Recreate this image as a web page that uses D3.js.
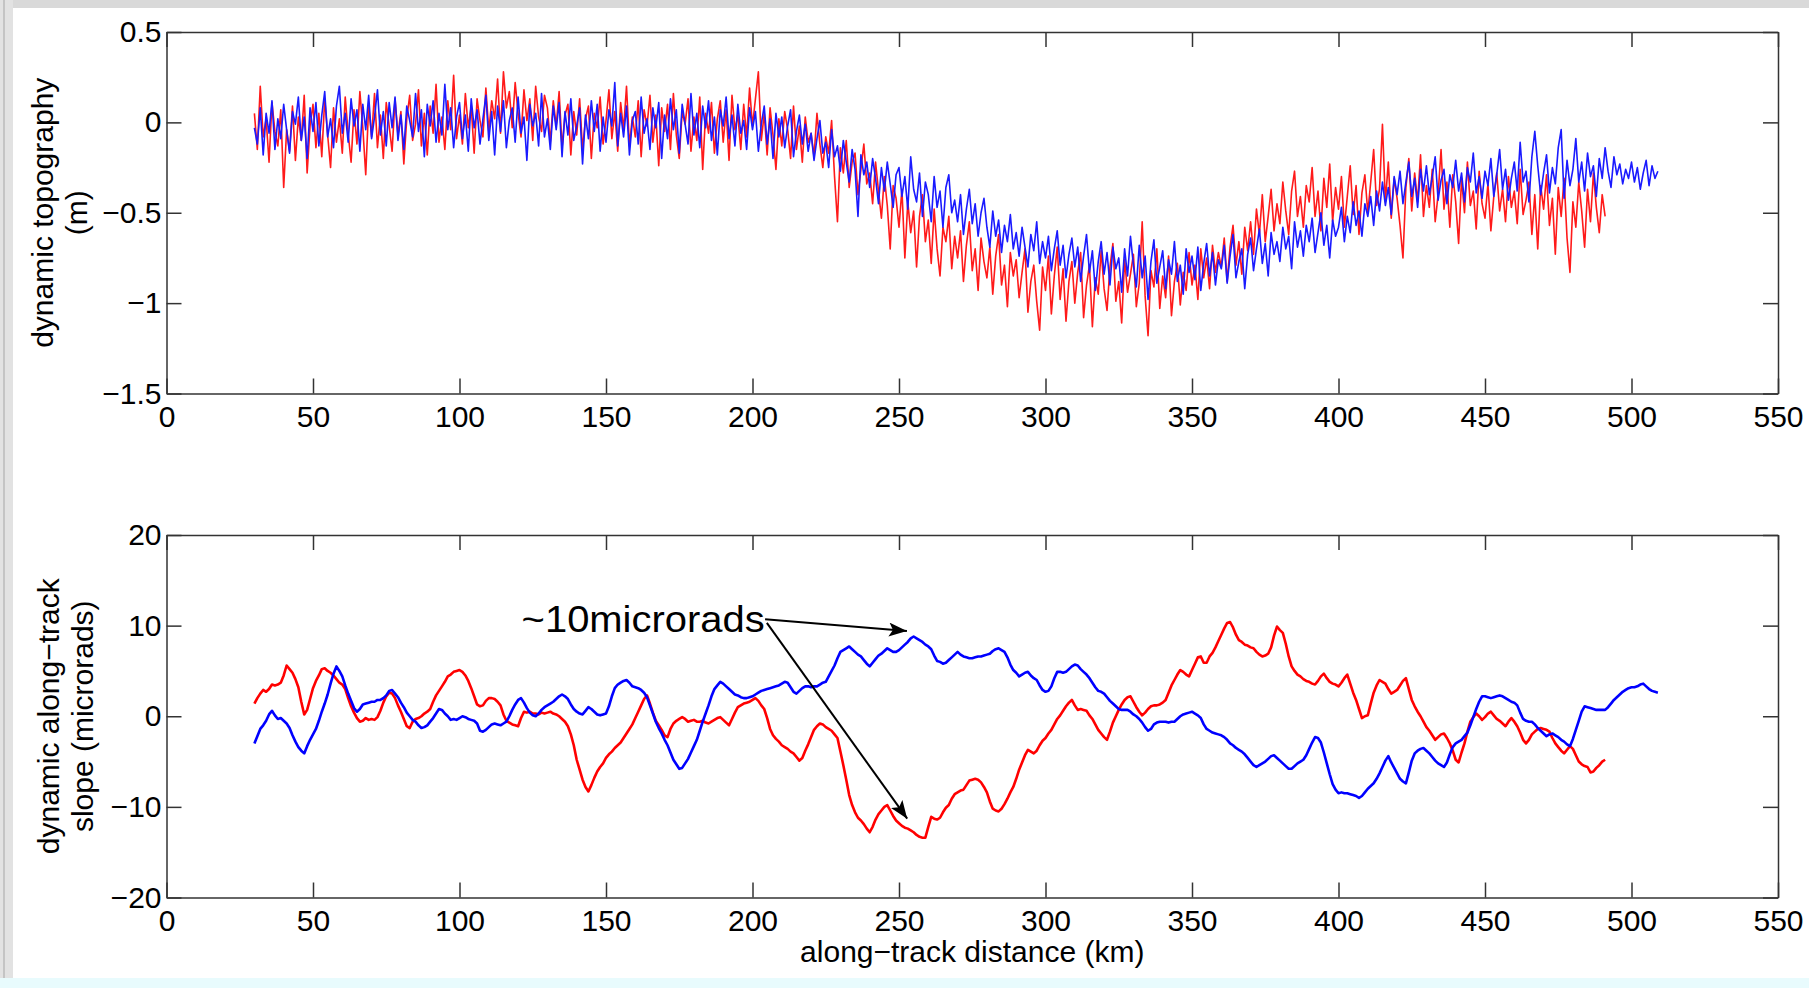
<!DOCTYPE html>
<html>
<head>
<meta charset="utf-8">
<script src="https://cdn.jsdelivr.net/npm/d3@7"></script>
<style>
    body { margin: 0; background: #fff; }
    text { font-family: "Liberation Sans", Arial, sans-serif; fill: #000; }
    .axis path, .axis line { stroke: #333; stroke-width: 1.5; }
    .axis text { font-size: 30px; }
    .label { font-size: 30px; }
</style>
</head>
<body>
<div id="chart"></div>
<script>
// samples are 1 km apart along the track, starting at 30 km
let distStart = 30;
let distStep = 1;

let xTicks = [0, 50, 100, 150, 200, 250, 300, 350, 400, 450, 500, 550];
let topoTicks = [-1.5, -1, -0.5, 0, 0.5];
let slopeTicks = [-20, -10, 0, 10, 20];

// dynamic topography (m)
let topoRed = [
0.05,-0.15,0.20,-0.08,0.02,-0.22,0.11,-0.05,-0.13,0.07,
-0.36,-0.04,-0.16,0.09,-0.21,0.03,-0.10,0.15,-0.28,-0.02,
0.10,-0.14,0.05,-0.19,0.13,-0.07,-0.25,0.08,-0.11,0.02,
-0.17,0.14,-0.06,-0.22,0.07,-0.12,0.17,-0.03,-0.29,0.09,
-0.08,0.16,-0.14,0.04,-0.20,0.11,-0.02,-0.16,0.13,-0.07,
0.06,-0.23,0.02,0.15,-0.10,-0.01,0.18,-0.13,0.05,-0.18,
0.09,-0.06,0.21,-0.11,0.03,-0.15,0.12,-0.04,0.26,-0.09,
0.04,-0.12,0.16,-0.03,0.09,-0.17,0.13,0.01,-0.08,0.19,
-0.05,0.12,0.02,0.24,-0.06,0.28,0.08,0.17,-0.03,0.22,
0.05,-0.08,0.18,0.01,0.13,-0.10,0.20,0.03,-0.05,0.15,
0.08,-0.11,0.12,-0.02,0.17,-0.14,0.04,0.10,-0.18,0.06,
-0.07,0.13,-0.15,0.02,0.09,-0.20,0.05,-0.03,0.14,-0.12,
0.01,0.18,-0.09,0.06,-0.16,0.11,-0.04,0.20,-0.13,0.03,
-0.08,0.12,-0.19,0.07,-0.02,0.15,-0.11,0.04,-0.24,0.08,
-0.05,0.10,-0.15,0.16,-0.07,-0.20,0.06,-0.01,0.13,-0.16,
0.03,-0.10,0.14,-0.26,0.05,-0.06,0.11,-0.17,0.02,0.12,
-0.11,0.07,-0.21,0.15,-0.04,0.04,-0.15,0.10,-0.08,0.19,
-0.02,0.13,0.28,-0.10,0.05,-0.18,0.08,-0.07,-0.26,0.02,
-0.13,0.06,-0.04,-0.20,0.09,-0.15,-0.02,-0.22,0.03,-0.11,
-0.06,-0.19,0.05,-0.12,-0.25,-0.08,-0.17,0.01,-0.30,-0.55,
-0.14,-0.28,-0.10,-0.36,-0.22,-0.17,-0.40,-0.26,-0.12,-0.34,
-0.28,-0.45,-0.22,-0.38,-0.53,-0.30,-0.46,-0.70,-0.35,-0.42,
-0.58,-0.37,-0.75,-0.44,-0.61,-0.49,-0.80,-0.52,-0.40,-0.66,
-0.54,-0.78,-0.48,-0.70,-0.85,-0.58,-0.66,-0.52,-0.81,-0.63,
-0.75,-0.60,-0.88,-0.68,-0.55,-0.82,-0.70,-0.93,-0.64,-0.77,
-0.86,-0.69,-0.95,-0.74,-0.62,-0.90,-0.79,-1.02,-0.72,-0.85,
-0.76,-0.97,-0.83,-0.70,-1.05,-0.88,-0.79,-0.99,-1.15,-0.80,
-0.93,-0.74,-1.06,-0.85,-0.69,-0.98,-0.81,-1.10,-0.88,-0.77,
-1.00,-0.83,-0.72,-1.08,-0.90,-0.79,-1.13,-0.86,-0.95,-0.71,
-0.92,-1.04,-0.80,-0.67,-0.99,-0.88,-1.11,-0.76,-0.94,-0.84,
-0.73,-1.02,-0.89,-0.55,-0.96,-1.18,-0.82,-0.91,-0.70,-1.03,
-0.85,-0.97,-0.74,-1.07,-0.88,-0.78,-1.01,-0.83,-0.93,-0.72,
-0.90,-0.79,-0.98,-0.70,-0.86,-0.75,-0.92,-0.68,-0.83,-0.72,
-0.80,-0.64,-0.88,-0.69,-0.57,-0.79,-0.66,-0.84,-0.58,-0.71,
-0.55,-0.73,-0.48,-0.62,-0.40,-0.66,-0.52,-0.37,-0.60,-0.45,
-0.56,-0.33,-0.49,-0.62,-0.38,-0.27,-0.52,-0.41,-0.58,-0.35,
-0.44,-0.25,-0.52,-0.38,-0.60,-0.31,-0.47,-0.23,-0.55,-0.36,
-0.48,-0.30,-0.58,-0.41,-0.24,-0.51,-0.35,-0.62,-0.39,-0.29,
-0.50,-0.33,-0.15,-0.46,-0.37,-0.01,-0.44,-0.22,-0.53,-0.31,
-0.42,-0.57,-0.75,-0.36,-0.20,-0.49,-0.28,-0.44,-0.18,-0.52,
-0.35,-0.47,-0.26,-0.55,-0.40,-0.15,-0.48,-0.33,-0.58,-0.29,
-0.44,-0.67,-0.31,-0.50,-0.22,-0.46,-0.38,-0.59,-0.27,-0.45,
-0.53,-0.34,-0.60,-0.41,-0.28,-0.49,-0.37,-0.55,-0.30,-0.47,
-0.38,-0.56,-0.26,-0.51,-0.43,-0.33,-0.62,-0.40,-0.70,-0.35,
-0.48,-0.29,-0.57,-0.42,-0.73,-0.36,-0.52,-0.31,-0.64,-0.83,
-0.44,-0.58,-0.33,-0.49,-0.69,-0.37,-0.55,-0.28,-0.47,-0.61,
-0.40,-0.52
];

let topoBlue = [
-0.03,-0.12,0.08,-0.18,0.05,-0.06,0.12,-0.15,0.02,-0.09,
0.10,-0.04,-0.17,0.06,-0.01,0.14,-0.10,0.03,-0.20,0.08,
-0.05,0.11,-0.13,0.04,0.17,-0.08,0.02,-0.14,0.09,0.20,
-0.06,0.05,-0.11,0.13,-0.02,0.07,-0.16,0.10,-0.04,0.15,
-0.09,0.03,0.18,-0.07,0.06,-0.13,0.11,-0.03,0.14,-0.10,
0.04,-0.15,0.09,0.01,-0.08,0.16,-0.05,0.07,-0.19,0.10,
-0.02,0.12,-0.11,0.05,-0.07,0.21,-0.04,0.08,-0.14,0.03,
0.11,-0.09,0.04,-0.16,0.13,-0.03,0.07,-0.12,0.02,0.15,
-0.10,0.06,-0.18,0.09,-0.05,0.12,-0.14,0.01,0.08,-0.11,
0.14,-0.06,0.03,-0.21,0.10,-0.02,0.05,-0.13,0.16,-0.08,
0.02,-0.15,0.09,-0.04,0.11,-0.19,0.06,-0.07,0.13,-0.10,
-0.02,0.08,-0.23,0.04,-0.09,0.12,-0.05,0.10,-0.16,0.03,
-0.11,0.07,-0.02,0.22,-0.13,0.05,-0.08,0.09,-0.18,0.01,
0.06,-0.12,0.14,-0.06,0.02,-0.15,0.08,-0.03,0.11,-0.20,
0.04,-0.09,0.13,-0.04,0.07,-0.17,0.10,-0.01,-0.12,0.16,
-0.07,0.05,-0.14,0.09,-0.03,0.12,-0.10,0.03,-0.18,0.07,
-0.02,0.14,-0.09,0.04,-0.13,0.10,-0.06,0.01,-0.15,0.08,
-0.04,0.06,-0.16,-0.01,0.09,-0.12,0.02,-0.20,0.05,-0.08,
0.03,-0.14,-0.02,0.07,-0.19,-0.05,0.04,-0.12,-0.01,-0.16,
-0.06,-0.21,-0.09,0.01,-0.17,-0.11,-0.25,-0.04,-0.19,-0.13,
-0.27,-0.10,-0.22,-0.33,-0.15,-0.26,-0.52,-0.18,-0.29,-0.22,
-0.36,-0.20,-0.31,-0.45,-0.25,-0.38,-0.22,-0.34,-0.47,-0.29,
-0.25,-0.41,-0.30,-0.48,-0.19,-0.37,-0.44,-0.28,-0.52,-0.33,
-0.40,-0.55,-0.30,-0.47,-0.38,-0.58,-0.36,-0.29,-0.50,-0.43,
-0.55,-0.40,-0.62,-0.48,-0.37,-0.56,-0.45,-0.63,-0.50,-0.42,
-0.58,-0.69,-0.49,-0.63,-0.54,-0.72,-0.57,-0.66,-0.51,-0.70,
-0.61,-0.74,-0.58,-0.69,-0.80,-0.62,-0.71,-0.55,-0.78,-0.66,
-0.75,-0.63,-0.82,-0.70,-0.60,-0.79,-0.68,-0.86,-0.73,-0.64,
-0.80,-0.69,-0.88,-0.74,-0.62,-0.83,-0.71,-0.93,-0.77,-0.66,
-0.84,-0.72,-0.90,-0.69,-0.81,-0.75,-0.94,-0.70,-0.85,-0.63,
-0.79,-0.91,-0.68,-0.86,-0.74,-0.98,-0.77,-0.65,-0.89,-0.80,
-0.71,-0.92,-0.76,-0.84,-0.66,-0.88,-0.79,-0.95,-0.70,-0.83,
-0.74,-0.87,-0.69,-0.93,-0.78,-0.67,-0.85,-0.72,-0.90,-0.76,
-0.81,-0.68,-0.89,-0.74,-0.62,-0.86,-0.77,-0.70,-0.92,-0.73,
-0.64,-0.82,-0.70,-0.59,-0.78,-0.67,-0.85,-0.61,-0.73,-0.66,
-0.77,-0.58,-0.70,-0.63,-0.81,-0.55,-0.69,-0.60,-0.74,-0.57,
-0.66,-0.53,-0.72,-0.61,-0.50,-0.68,-0.57,-0.75,-0.54,-0.63,
-0.58,-0.47,-0.66,-0.52,-0.61,-0.44,-0.57,-0.49,-0.63,-0.45,
-0.52,-0.41,-0.57,-0.38,-0.49,-0.33,-0.46,-0.36,-0.51,-0.30,
-0.40,-0.27,-0.45,-0.33,-0.22,-0.41,-0.31,-0.47,-0.26,-0.38,
-0.24,-0.40,-0.30,-0.19,-0.43,-0.32,-0.26,-0.45,-0.29,-0.36,
-0.21,-0.38,-0.28,-0.44,-0.25,-0.33,-0.17,-0.39,-0.30,-0.42,
-0.27,-0.35,-0.20,-0.41,-0.29,-0.15,-0.37,-0.26,-0.43,-0.31,
-0.22,-0.38,-0.11,-0.33,-0.27,-0.44,-0.19,-0.05,-0.24,-0.40,
-0.28,-0.18,-0.39,-0.25,-0.34,-0.14,-0.04,-0.42,-0.21,-0.35,
-0.26,-0.09,-0.33,-0.22,-0.38,-0.17,-0.30,-0.24,-0.41,-0.20,
-0.31,-0.14,-0.27,-0.36,-0.19,-0.29,-0.23,-0.34,-0.26,-0.31,
-0.22,-0.33,-0.25,-0.37,-0.28,-0.21,-0.35,-0.24,-0.31,-0.27
];

// dynamic along-track slope (microrads)
let slopeRed = [
1.4,2.0,2.5,2.9,2.7,3.0,3.5,3.4,3.5,3.7,
4.5,5.6,5.2,4.8,4.1,3.2,1.6,0.2,0.7,1.9,
3.1,3.9,4.5,5.2,5.3,5.0,4.8,4.5,4.1,3.7,
3.5,3.0,2.0,1.1,0.4,-0.2,-0.6,-0.5,-0.2,-0.4,
-0.3,-0.4,-0.1,0.6,1.5,2.2,2.6,2.5,2.0,1.2,
0.5,-0.3,-1.1,-1.3,-0.6,-0.3,-0.2,0.0,0.3,0.5,
0.8,1.6,2.3,2.8,3.3,3.8,4.4,4.6,4.9,5.0,
5.1,4.9,4.5,3.9,3.1,2.2,1.3,1.1,1.2,1.7,
2.0,2.0,1.9,1.6,1.2,0.2,-0.5,-0.7,-0.9,-1.0,
-1.1,-0.2,0.5,0.4,0.5,0.3,0.3,0.2,0.4,0.3,
0.4,0.5,0.3,0.2,0.0,-0.3,-0.6,-1.1,-2.0,-3.2,
-4.8,-5.9,-7.0,-7.8,-8.3,-7.6,-6.8,-6.1,-5.6,-5.2,
-4.6,-4.2,-3.9,-3.5,-3.2,-2.9,-2.4,-1.9,-1.4,-0.9,
-0.2,0.5,1.2,1.9,2.3,1.4,0.4,-0.5,-1.0,-1.5,
-2.1,-2.3,-1.4,-0.8,-0.5,-0.3,-0.1,-0.3,-0.6,-0.5,
-0.4,-0.6,-0.6,-0.5,-0.7,-0.8,-0.6,-0.4,-0.2,-0.1,
-0.4,-0.7,-1.0,-0.3,0.4,1.0,1.2,1.4,1.5,1.6,
1.8,2.0,1.7,1.2,0.8,-0.2,-1.4,-2.1,-2.5,-2.8,
-3.2,-3.4,-3.6,-3.9,-4.1,-4.5,-4.9,-4.6,-3.8,-3.1,
-2.3,-1.5,-1.1,-0.8,-0.9,-1.2,-1.4,-1.6,-2.0,-2.4,
-3.9,-5.4,-7.0,-8.7,-9.8,-10.6,-11.2,-11.5,-11.9,-12.4,
-12.8,-12.2,-11.4,-10.8,-10.4,-10.0,-9.8,-10.4,-11.0,-11.5,
-11.8,-12.1,-12.3,-12.4,-12.6,-12.8,-13.1,-13.3,-13.4,-13.4,
-12.2,-11.1,-11.3,-11.4,-11.2,-10.6,-10.1,-9.8,-9.1,-8.6,
-8.4,-8.2,-8.1,-7.6,-7.1,-7.0,-6.9,-7.0,-7.3,-7.8,
-8.4,-9.4,-10.2,-10.4,-10.5,-10.2,-9.7,-9.1,-8.4,-7.8,
-6.9,-5.9,-5.1,-4.3,-3.7,-3.9,-4.1,-3.8,-3.2,-2.7,
-2.4,-1.9,-1.5,-0.9,-0.3,0.1,0.6,1.1,1.5,1.8,
1.2,0.7,0.8,0.7,0.6,0.1,-0.3,-0.9,-1.5,-1.9,
-2.3,-2.6,-1.7,-0.7,0.0,0.7,1.3,1.8,2.1,2.2,
1.6,1.0,0.5,0.1,0.4,0.8,1.1,1.2,1.2,1.3,
1.5,1.8,2.6,3.4,4.0,4.6,5.1,4.9,4.6,4.4,
5.1,5.8,6.5,6.6,5.9,5.9,6.6,7.0,7.6,8.3,
9.0,9.7,10.3,10.4,9.8,9.0,8.4,8.2,7.9,7.8,
7.6,7.5,7.1,6.8,6.6,6.7,6.9,7.6,8.9,9.9,
9.5,9.2,8.0,6.6,5.5,5.0,4.6,4.4,4.1,3.9,
3.8,3.6,3.5,3.9,4.4,4.7,4.2,3.8,3.6,3.5,
3.3,3.7,4.2,4.6,3.6,2.6,1.8,0.8,-0.2,0.0,
0.1,1.4,2.6,3.4,4.0,3.8,3.6,3.0,2.5,2.7,
2.9,3.4,3.9,4.2,3.0,1.8,1.1,0.5,0.0,-0.6,
-1.2,-1.6,-2.1,-2.6,-2.3,-2.0,-1.9,-2.4,-3.0,-3.8,
-4.8,-5.1,-4.0,-3.0,-1.7,-0.6,-0.1,0.3,0.0,-0.4,
-0.1,0.3,0.5,0.1,-0.3,-0.5,-0.8,-1.1,-0.6,-0.2,
-0.6,-1.1,-1.8,-2.6,-3.0,-2.6,-2.0,-1.7,-1.4,-1.3,
-1.4,-1.5,-1.7,-2.4,-3.0,-3.4,-3.8,-4.1,-3.7,-3.3,
-3.6,-4.3,-5.0,-5.3,-5.5,-5.6,-6.2,-6.1,-5.7,-5.4,
-5.0,-4.8
];

let slopeBlue = [
-3.0,-2.2,-1.4,-1.0,-0.5,0.2,0.6,0.1,-0.3,-0.2,
-0.5,-0.8,-1.3,-2.1,-2.8,-3.4,-3.8,-4.1,-3.3,-2.6,
-2.0,-1.4,-0.5,0.5,1.4,2.4,3.6,4.7,5.5,5.0,
4.4,3.4,2.5,1.7,0.9,0.5,0.8,1.3,1.4,1.5,
1.6,1.6,1.8,1.8,2.0,2.3,2.8,2.9,2.5,2.1,
1.5,1.0,0.4,0.0,-0.4,-0.6,-1.0,-1.3,-1.2,-1.0,
-0.6,-0.2,0.3,0.8,0.7,0.3,0.0,-0.4,-0.3,-0.4,
-0.2,0.0,-0.1,-0.3,-0.4,-0.5,-0.8,-1.6,-1.7,-1.5,
-1.2,-0.9,-0.8,-0.9,-1.0,-0.8,-0.6,0.0,0.7,1.3,
1.8,2.0,1.5,0.9,0.4,0.1,0.0,0.3,0.7,1.0,
1.2,1.4,1.6,1.9,2.2,2.4,2.2,1.9,1.3,0.8,
0.5,0.3,0.2,0.6,1.0,0.8,0.5,0.2,0.1,0.2,
0.3,1.1,2.2,3.1,3.5,3.7,3.9,4.0,3.7,3.3,
3.2,3.1,2.9,2.6,2.1,1.2,0.3,-0.6,-1.3,-1.9,
-2.6,-3.2,-4.0,-4.8,-5.3,-5.8,-5.7,-5.2,-4.7,-4.0,
-3.3,-2.6,-1.6,-0.6,0.3,1.2,2.2,3.0,3.4,3.8,
3.6,3.3,3.0,2.7,2.4,2.3,2.1,2.0,2.0,2.1,
2.2,2.4,2.6,2.8,2.9,3.0,3.1,3.2,3.3,3.4,
3.6,3.8,3.7,3.2,2.7,2.5,2.8,3.1,3.3,3.3,
3.2,3.3,3.3,3.5,3.7,3.8,4.4,5.0,5.6,6.4,
7.1,7.3,7.5,7.7,7.4,7.1,6.8,6.6,6.2,5.8,
5.5,5.9,6.3,6.7,6.9,7.2,7.5,7.3,7.1,7.1,
7.3,7.6,7.9,8.2,8.6,8.8,8.6,8.4,8.2,7.9,
7.7,7.4,6.7,6.1,6.0,5.8,5.9,6.2,6.5,6.8,
7.1,6.8,6.6,6.5,6.4,6.4,6.5,6.6,6.6,6.7,
6.8,6.9,7.2,7.4,7.5,7.3,7.1,6.5,5.7,5.1,
4.8,4.4,4.6,4.8,4.9,4.5,4.2,4.0,3.4,2.9,
2.7,2.8,3.3,4.2,4.9,4.9,4.8,4.9,5.2,5.5,
5.7,5.6,5.2,4.9,4.6,4.2,3.7,3.2,2.8,2.7,
2.5,2.1,1.7,1.4,1.1,0.8,0.7,0.7,0.7,0.5,
0.2,0.0,-0.3,-0.7,-1.2,-1.6,-1.4,-0.9,-0.7,-0.6,
-0.6,-0.6,-0.7,-0.6,-0.6,-0.3,0.0,0.2,0.3,0.4,
0.5,0.3,0.1,-0.2,-0.9,-1.4,-1.6,-1.8,-1.9,-2.0,
-2.1,-2.3,-2.6,-3.0,-3.2,-3.5,-3.7,-3.9,-4.2,-4.6,
-5.0,-5.4,-5.6,-5.4,-5.2,-5.0,-4.7,-4.4,-4.3,-4.6,
-4.9,-5.2,-5.5,-5.8,-5.8,-5.5,-5.2,-5.0,-4.8,-4.3,
-3.6,-2.9,-2.3,-2.4,-2.9,-4.0,-5.2,-6.4,-7.5,-8.1,
-8.5,-8.4,-8.5,-8.5,-8.6,-8.7,-8.8,-9.0,-8.8,-8.4,
-8.0,-7.7,-7.4,-6.9,-6.3,-5.6,-4.9,-4.4,-5.1,-5.7,
-6.3,-6.9,-7.2,-7.4,-6.2,-4.9,-4.1,-3.8,-3.6,-3.5,
-3.8,-4.1,-4.5,-4.9,-5.2,-5.4,-5.6,-5.1,-4.2,-3.4,
-3.0,-2.8,-2.6,-2.2,-1.8,-1.0,-0.1,0.8,1.6,2.2,
2.2,2.1,2.0,2.1,2.2,2.3,2.2,2.0,1.8,1.6,
1.5,1.2,0.4,-0.3,-0.5,-0.6,-0.6,-0.9,-1.3,-1.6,
-1.9,-2.2,-2.0,-1.9,-2.1,-2.3,-2.6,-2.8,-3.1,-3.3,
-2.5,-1.5,-0.5,0.5,1.1,1.0,0.9,0.8,0.7,0.7,
0.7,0.7,1.0,1.4,1.8,2.1,2.4,2.7,2.9,3.1,
3.2,3.2,3.3,3.5,3.6,3.3,3.0,2.8,2.7,2.6
];

// annotation in data units (km, microrads)
let noteText = "~10microrads";
let notePos = [121.2, 9.33];
let arrows = [
    {from: [204.3, 10.7], to: [252.7, 9.4]},
    {from: [204.9, 10.3], to: [252.8, -11.3]}
];

let width = 1809, height = 988;
let plotLeft = 166.5, plotRight = 1778;
let panelTop = {top: 32, bottom: 393.5};
let panelBottom = {top: 535, bottom: 897.5};

let svg = d3.select("#chart")
    .append("svg")
    .attr("width", width)
    .attr("height", height);

// slide background around the figure
svg.append("rect").attr("x", 0).attr("y", 0).attr("width", width).attr("height", height).attr("fill", "#fff");
svg.append("rect").attr("x", 0).attr("y", 0).attr("width", width).attr("height", 8).attr("fill", "#d9d9d9");
svg.append("rect").attr("x", 0).attr("y", 0).attr("width", 13).attr("height", height).attr("fill", "#e2e2e2");
svg.append("rect").attr("x", 3).attr("y", 0).attr("width", 2).attr("height", height).attr("fill", "#c4c4c4");
svg.append("rect").attr("x", 0).attr("y", 978).attr("width", width).attr("height", 10).attr("fill", "#e8fbfd");

svg.append("defs").append("marker")
    .attr("id", "head")
    .attr("markerUnits", "userSpaceOnUse")
    .attr("markerWidth", 20)
    .attr("markerHeight", 16)
    .attr("refX", 18)
    .attr("refY", 7)
    .attr("orient", "auto")
    .append("path")
    .attr("d", "M0,0 L18,7 L0,14 L4,7 Z")
    .attr("fill", "#000");

let xScale = d3.scaleLinear().domain([0, 550]).range([plotLeft, plotRight]);
let fmt = d3.format("~g");

function drawPanel(panel, yDomain, yTicks, series, lineWidth) {
    let yScale = d3.scaleLinear().domain(yDomain).range([panel.bottom, panel.top]);

    let line = d3.line()
        .x((d, i) => xScale(distStart + i * distStep))
        .y(d => yScale(d));

    series.forEach(s => {
        svg.append("path")
            .datum(s.values)
            .attr("d", line)
            .attr("fill", "none")
            .attr("stroke", s.color)
            .attr("stroke-width", lineWidth)
            .attr("stroke-linejoin", "round");
    });

    svg.append("g")
        .attr("class", "axis")
        .attr("transform", "translate(0," + panel.bottom + ")")
        .call(d3.axisBottom(xScale).tickValues(xTicks).tickSize(-15).tickSizeOuter(0).tickPadding(12));

    svg.append("g")
        .attr("class", "axis")
        .attr("transform", "translate(0," + panel.top + ")")
        .call(d3.axisTop(xScale).tickValues(xTicks).tickSize(-15).tickSizeOuter(0).tickFormat(""));

    svg.append("g")
        .attr("class", "axis")
        .attr("transform", "translate(" + plotLeft + ",0)")
        .call(d3.axisLeft(yScale).tickValues(yTicks).tickSize(-15).tickSizeOuter(0).tickPadding(5).tickFormat(fmt));

    svg.append("g")
        .attr("class", "axis")
        .attr("transform", "translate(" + plotRight + ",0)")
        .call(d3.axisRight(yScale).tickValues(yTicks).tickSize(-15).tickSizeOuter(0).tickFormat(""));

    return yScale;
}

drawPanel(panelTop, [-1.5, 0.5], topoTicks, [
    {values: topoRed, color: "#ff1a1a"},
    {values: topoBlue, color: "#1a1aff"}
], 1.6);

let slopeY = drawPanel(panelBottom, [-20, 20], slopeTicks, [
    {values: slopeRed, color: "#ff0000"},
    {values: slopeBlue, color: "#0000ff"}
], 2.6);

// y labels (two lines each)
let midTop = (panelTop.top + panelTop.bottom) / 2;
let midBottom = (panelBottom.top + panelBottom.bottom) / 2;

svg.append("text")
    .attr("class", "label")
    .attr("text-anchor", "middle")
    .attr("transform", "translate(53," + midTop + ") rotate(-90)")
    .text("dynamic topography");
svg.append("text")
    .attr("class", "label")
    .attr("text-anchor", "middle")
    .attr("transform", "translate(87," + midTop + ") rotate(-90)")
    .text("(m)");

svg.append("text")
    .attr("class", "label")
    .attr("text-anchor", "middle")
    .attr("transform", "translate(59," + midBottom + ") rotate(-90)")
    .text("dynamic along\u2212track");
svg.append("text")
    .attr("class", "label")
    .attr("text-anchor", "middle")
    .attr("transform", "translate(93," + midBottom + ") rotate(-90)")
    .text("slope (microrads)");

svg.append("text")
    .attr("class", "label")
    .attr("text-anchor", "middle")
    .attr("x", (plotLeft + plotRight) / 2)
    .attr("y", 962)
    .text("along\u2212track distance (km)");

// annotation
svg.append("text")
    .attr("x", xScale(notePos[0]))
    .attr("y", slopeY(notePos[1]))
    .attr("font-size", 36)
    .attr("textLength", 243)
    .attr("lengthAdjust", "spacingAndGlyphs")
    .text(noteText);

svg.selectAll(".arrow")
    .data(arrows)
    .enter()
    .append("line")
    .attr("class", "arrow")
    .attr("x1", d => xScale(d.from[0]))
    .attr("y1", d => slopeY(d.from[1]))
    .attr("x2", d => xScale(d.to[0]))
    .attr("y2", d => slopeY(d.to[1]))
    .attr("stroke", "#000")
    .attr("stroke-width", 2)
    .attr("marker-end", "url(#head)");
</script>
</body>
</html>
